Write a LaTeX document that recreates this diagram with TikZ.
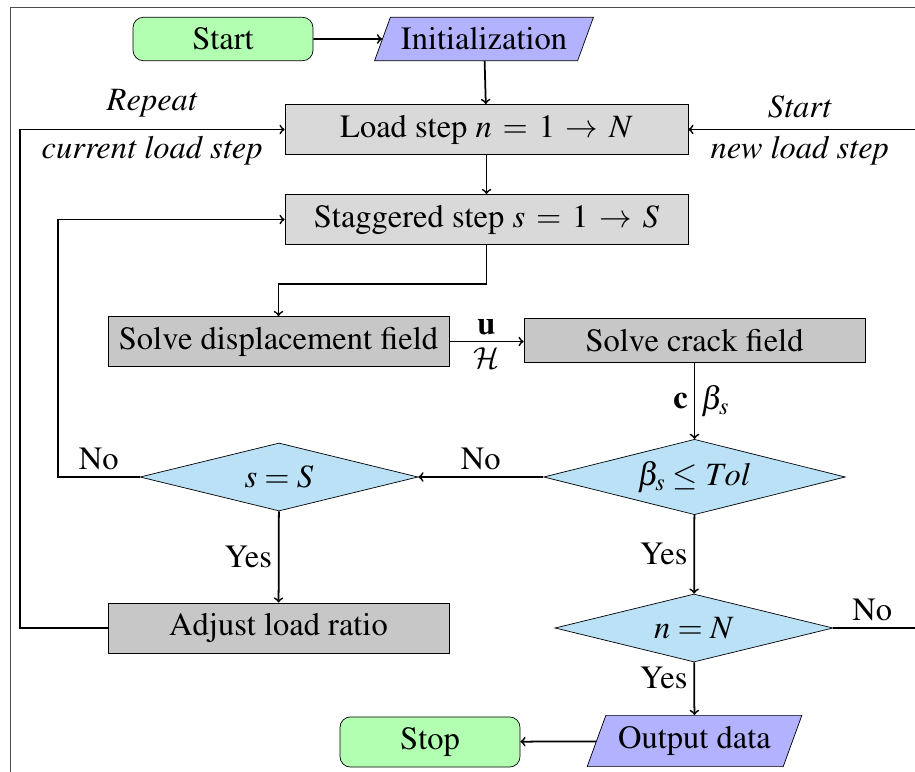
\documentclass[tikz,border=0pt]{standalone}
\usepackage[T1]{fontenc}
\usepackage{mathptmx}
\DeclareMathAlphabet{\mathcal}{OMS}{cmsy}{m}{n}
\usetikzlibrary{positioning,shapes.geometric}
\definecolor{decisionblue}{RGB}{186,225,246}

\begin{document}
\begin{tikzpicture}[x=0.2mm,y=-0.2mm,
  font=\fontsize{18.5}{22}\selectfont,
  terminal/.style={rectangle,rounded corners=6pt,draw,fill=green!30,minimum width=3.6cm,inner sep=6pt},
  io/.style={trapezium,trapezium left angle=70,trapezium right angle=110,draw,fill=blue!30,minimum width=4.3cm,inner sep=6pt},
  process/.style={rectangle,draw,fill=black!15,minimum width=8.06cm,inner sep=6pt},
  solver/.style={rectangle,draw,fill=black!22,minimum width=6.82cm,inner sep=6pt},
  decision/.style={diamond,aspect=4,draw,fill=decisionblue,inner sep=3.5pt,minimum width=5.56cm,minimum height=1.36cm},
  flow/.style={->,line width=1pt}]
\useasboundingbox (0,0) rectangle (915,772);
\draw[black!70] (10,800) |- (930,7.5);

% nodes
\node[terminal] (start) at (223,39) {Start};
\node[io] (init) at (484,39) {Initialization};
\node[process] (load) at (486.5,129.5) {Load step $n \,=\, 1 \,\rightarrow\, N$};
\node[process] (stag) at (486.5,219.5) {Staggered step $s \,=\, 1 \,\rightarrow\, S$};
\node[solver] (disp) at (278.5,341.5) {Solve displacement field};
\node[solver] (crack) at (694.5,340.5) {Solve crack field};
\node[decision] (sS) at (279,477) {$s = S$};
\node[decision] (beta) at (694.5,477) {$\beta_s \leq Tol$};
\node[solver] (adjust) at (278.5,628) {Adjust load ratio};
\node[decision] (nN) at (694,628) {$n = N$};
\node[io] (out) at (694.5,741) {Output data};
\node[terminal] (stop) at (430,742) {Stop};
\coordinate (rightin) at (920,129.5);
\coordinate (rightout) at (920,628);

% connectors
\draw[flow] (start) -- (init);
\draw[flow] (init) -- (load);
\draw[flow] (load) -- (stag);
\draw[flow] (stag.south) -- ++(0,39) -| (disp.north);
\draw[flow] (disp.east) -- node[above]{$\mathbf{u}$} node[below]{$\mathcal{H}$} (disp.east -| crack.west);
\draw[flow] (crack) -- node[left]{$\mathbf{c}$} node[right]{$\beta_s$} (beta);
\draw[flow] (beta) -- node[above]{No} (sS);
\draw[flow] (sS.west) -- node[above]{No} ++(-82,0) |- (stag.west);
\draw[flow] (sS) -- node[left]{Yes} (adjust);
\draw[flow] (adjust.west) -- ++(-88,0) |- node[pos=0.75,above,yshift=3]{\textit{Repeat}} node[pos=0.75,below]{\textit{current load step}} (load.west);
\draw[flow] (rightin) -- node[above,xshift=-2.5,yshift=3]{\textit{Start}} node[below,xshift=-2.5]{\textit{new load step}} (load.east);
\draw[flow] (beta) -- node[left]{Yes} (nN);
\draw[line width=1pt] (nN.east) -- node[above,xshift=-2.5]{No} (rightout);
\draw[flow] (nN) -- node[left,pos=0.3]{Yes} (out);
\draw[flow] (out) -- (stop);
\end{tikzpicture}
\end{document}
